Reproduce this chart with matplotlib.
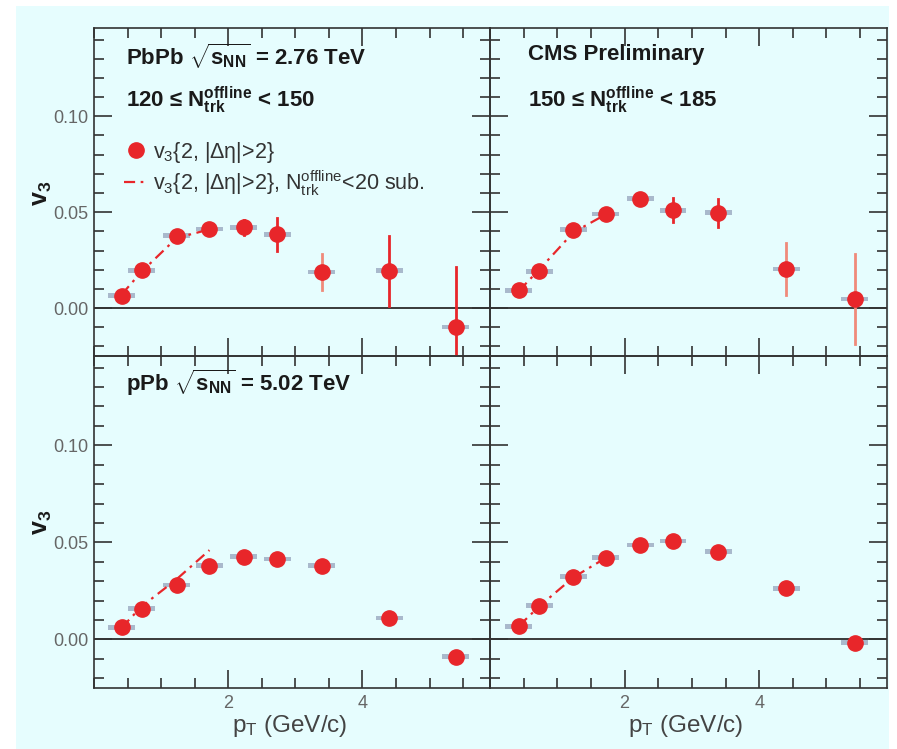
import matplotlib
matplotlib.use("Agg")
import matplotlib.pyplot as plt
from matplotlib.lines import Line2D
from matplotlib.patches import Rectangle
from matplotlib.ticker import MultipleLocator

plt.rcParams['font.family'] = ['Liberation Sans', 'DejaVu Sans']
plt.rcParams['mathtext.fontset'] = 'custom'
plt.rcParams['mathtext.rm'] = 'Liberation Sans'
plt.rcParams['mathtext.it'] = 'Liberation Sans'
plt.rcParams['mathtext.bf'] = 'Liberation Sans:bold'

# ---------------- data ----------------
pt_tl = [0.41, 0.71, 1.23, 1.72, 2.23, 2.73, 3.39, 4.40, 5.39]
v3_tl = [0.0064, 0.0197, 0.0378, 0.0413, 0.0420, 0.0385, 0.0188, 0.0195, -0.0099]
err_tl = [0.0, 0.0, 0.0, 0.0, 0.004, 0.0087, 0.0092, 0.0183, 0.0315]
sub_pt_tl = [0.41, 0.71, 1.23, 1.72]
sub_v3_tl = [0.0070, 0.0190, 0.0365, 0.0410]

pt_tr = [0.43, 0.73, 1.24, 1.72, 2.23, 2.72, 3.39, 4.40, 5.42]
v3_tr = [0.0092, 0.0192, 0.0409, 0.0491, 0.0570, 0.0510, 0.0497, 0.0204, 0.0047]
err_tr = [0.0, 0.0, 0.0, 0.0, 0.0, 0.0064, 0.0074, 0.0137, 0.0235]
sub_pt_tr = [0.43, 0.73, 1.24, 1.72]
sub_v3_tr = [0.0090, 0.0200, 0.0395, 0.0488]

pt_bl = [0.41, 0.71, 1.23, 1.72, 2.23, 2.73, 3.39, 4.40, 5.39]
v3_bl = [0.0063, 0.0159, 0.0280, 0.0380, 0.0427, 0.0414, 0.0380, 0.0110, -0.0089]
err_bl = [0.0, 0.0, 0.0, 0.0, 0.0, 0.0, 0.0, 0.0, 0.0]
sub_pt_bl = [0.41, 0.71, 1.23, 1.72]
sub_v3_bl = [0.0060, 0.0170, 0.0310, 0.0460]

pt_br = [0.43, 0.73, 1.24, 1.72, 2.23, 2.72, 3.39, 4.40, 5.42]
v3_br = [0.0068, 0.0174, 0.0324, 0.0422, 0.0487, 0.0507, 0.0452, 0.0264, -0.0017]
err_br = [0.0, 0.0, 0.0, 0.0, 0.0, 0.0, 0.0, 0.0, 0.0]
sub_pt_br = [0.43, 0.73, 1.24, 1.72]
sub_v3_br = [0.0070, 0.0170, 0.0320, 0.0420]

sys_halfwidth = 0.2
y_ticks = [0.00, 0.05, 0.10]
x_ticks = [2, 4]

# ---------------- figure ----------------
W, H = 897, 749
fig = plt.figure(figsize=(W / 100, H / 100), dpi=100)
fig.patches.append(Rectangle((16 / W, 0), (889 - 16) / W, (743) / H,
                             transform=fig.transFigure, facecolor='#e6fdfe',
                             edgecolor='none', zorder=-10))

def px_axes(x0, y0, x1, y1):
    return fig.add_axes([x0 / W, 1 - y1 / H, (x1 - x0) / W, (y1 - y0) / H])

ax_tl = px_axes(94, 28, 490, 356)
ax_tr = px_axes(490, 28, 887, 356)
ax_bl = px_axes(94, 356, 490, 688)
ax_br = px_axes(490, 356, 887, 688)

red = '#e8262a'
salmon = '#f08a7a'
syscol = '#a9b9cc'
dashes = (5, 2.5, 1.2, 2.5)

panels = [
    (ax_tl, pt_tl, v3_tl, err_tl, sub_pt_tl, sub_v3_tl, [red] * 6 + [salmon, red, red]),
    (ax_tr, pt_tr, v3_tr, err_tr, sub_pt_tr, sub_v3_tr, [red] * 7 + [salmon, salmon]),
    (ax_bl, pt_bl, v3_bl, err_bl, sub_pt_bl, sub_v3_bl, [red] * 9),
    (ax_br, pt_br, v3_br, err_br, sub_pt_br, sub_v3_br, [red] * 9),
]

for ax, pt, v3, err, spt, sv3, ecols in panels:
    ax.set_facecolor('none')
    ax.set_xlim(0.0, 5.9)
    ax.set_ylim(-0.025, 0.146)
    ax.axhline(0, color='#3a3a3a', lw=1.4, zorder=1)
    # systematic boxes
    for x, y in zip(pt, v3):
        ax.add_patch(Rectangle((x - sys_halfwidth, y - 0.0012), 2 * sys_halfwidth, 0.0024,
                               facecolor=syscol, edgecolor='none', zorder=2))
    # stat errors
    for x, y, e, c in zip(pt, v3, err, ecols):
        if e > 0:
            ax.plot([x, x], [y - e, y + e], color=c, lw=2.0, zorder=3)
    ax.plot(spt, sv3, color=red, lw=1.6, dashes=dashes, zorder=4)
    ax.plot(pt, v3, 'o', color=red, ms=11, mec=red, zorder=5)
    ax.xaxis.set_major_locator(MultipleLocator(2))
    ax.xaxis.set_minor_locator(MultipleLocator(0.5))
    ax.yaxis.set_major_locator(MultipleLocator(0.05))
    ax.yaxis.set_minor_locator(MultipleLocator(0.01))
    ax.tick_params(which='both', direction='in', top=True, right=True,
                   color='#333333', width=1.2, labelcolor='#666666', labelsize=13)
    ax.tick_params(which='major', length=13)
    ax.tick_params(which='minor', length=7)
    for s in ax.spines.values():
        s.set_color('#333333')
        s.set_linewidth(1.2)
    ax.set_yticks(y_ticks)
    ax.set_yticklabels(['%.2f' % t for t in y_ticks])
    ax.set_xticks(x_ticks)
    ax.set_xticklabels([str(t) for t in x_ticks])

for ax in (ax_tr, ax_br):
    ax.tick_params(labelleft=False)
for ax in (ax_tl, ax_tr):
    ax.tick_params(labelbottom=False)
for ax in (ax_tl, ax_bl):
    ax.tick_params(axis='y', pad=4)
for ax in (ax_bl, ax_br):
    ax.tick_params(axis='x', pad=5)

# texts
bfs = 16
ax_tl.text(0.08, 0.915, r'PbPb $\sqrt{\mathbf{s}_{\mathbf{NN}}}$ = 2.76 TeV', transform=ax_tl.transAxes,
           fontsize=bfs, fontweight='bold', va='center', color='#1a1a1a')
ax_tl.text(0.08, 0.78, r'120 ≤ $\mathbf{N}_{\mathbf{trk}}^{\mathbf{offline}}$ < 150', transform=ax_tl.transAxes,
           fontsize=bfs, fontweight='bold', va='center', color='#1a1a1a')
ax_tr.text(0.095, 0.92, 'CMS Preliminary', transform=ax_tr.transAxes,
           fontsize=bfs, fontweight='bold', va='center', color='#1a1a1a')
ax_tr.text(0.095, 0.78, r'150 ≤ $\mathbf{N}_{\mathbf{trk}}^{\mathbf{offline}}$ < 185', transform=ax_tr.transAxes,
           fontsize=bfs, fontweight='bold', va='center', color='#1a1a1a')
ax_bl.text(0.08, 0.92, r'pPb $\sqrt{\mathbf{s}_{\mathbf{NN}}}$ = 5.02 TeV', transform=ax_bl.transAxes,
           fontsize=bfs, fontweight='bold', va='center', color='#1a1a1a')

handles = [Line2D([], [], marker='o', ls='none', color=red, ms=11),
           Line2D([], [], color=red, lw=1.6, dashes=dashes)]
labels = [r'v$_3${2, |Δη|>2}', r'v$_3${2, |Δη|>2}, N$_{\mathrm{trk}}^{\mathrm{offline}}$<20 sub.']
ax_tl.legend(handles, labels, loc='upper left', bbox_to_anchor=(0.055, 0.685), frameon=False,
             fontsize=15.5, handlelength=1.05, handletextpad=0.3, labelspacing=0.15,
             labelcolor='#333333', borderaxespad=0)

fig.text(42 / W, 1 - 193 / H, r'$\mathbf{v}_{\mathbf{3}}$', rotation=90, fontsize=18,
         ha='center', va='center', color='#1a1a1a')
fig.text(42 / W, 1 - 522 / H, r'$\mathbf{v}_{\mathbf{3}}$', rotation=90, fontsize=18,
         ha='center', va='center', color='#1a1a1a')
fig.text(290 / W, 1 - 726 / H, r'p$_\mathrm{T}$ (GeV/c)', fontsize=17.5,
         ha='center', va='center', color='#444444')
fig.text(686 / W, 1 - 726 / H, r'p$_\mathrm{T}$ (GeV/c)', fontsize=17.5,
         ha='center', va='center', color='#444444')

fig.savefig('out.png', dpi=100)
